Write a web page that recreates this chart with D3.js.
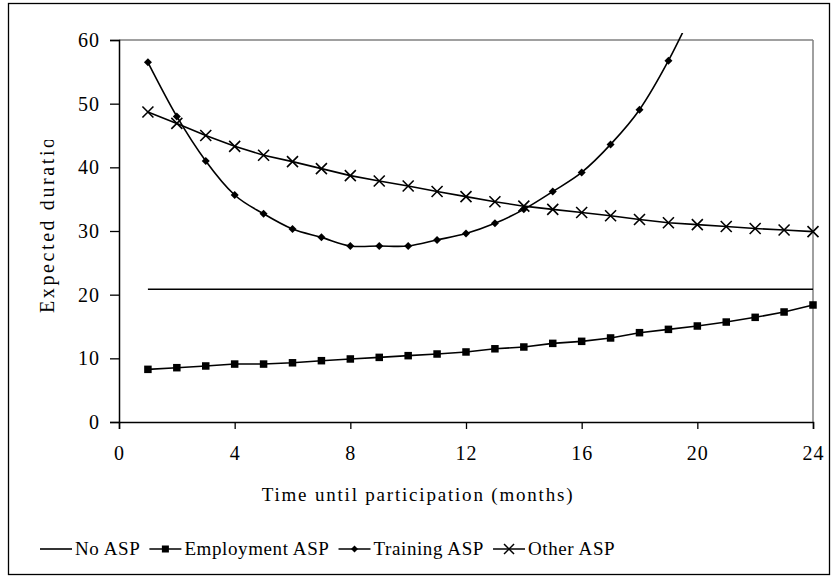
<!DOCTYPE html>
<html>
<head>
<meta charset="utf-8">
<script src="https://cdn.jsdelivr.net/npm/d3@7"></script>
<style>
  body { margin: 0; background: #fff; }
  text { font-family: "Liberation Serif", "Times New Roman", serif; fill: #000; }
</style>
</head>
<body>
<div id="chart"></div>
<script>
// data
const months = d3.range(1, 25);
const noAsp = [20.85, 20.85, 20.85, 20.85, 20.85, 20.85, 20.85, 20.85, 20.85, 20.85, 20.85, 20.85,
               20.85, 20.85, 20.85, 20.85, 20.85, 20.85, 20.85, 20.85, 20.85, 20.85, 20.85, 20.85];
const employment = [8.27, 8.53, 8.8, 9.1, 9.1, 9.3, 9.63, 9.9, 10.15, 10.42, 10.68, 11.0,
                    11.5, 11.78, 12.35, 12.67, 13.2, 14.03, 14.55, 15.08, 15.7, 16.44, 17.28, 18.38];
const training = [56.5, 48.0, 41.0, 35.65, 32.7, 30.3, 29.0, 27.65, 27.65, 27.65, 28.6, 29.6,
                  31.2, 33.4, 36.2, 39.2, 43.6, 49.05, 56.75, 66.0];
const other = [48.7, 46.9, 45.0, 43.3, 41.9, 40.9, 39.8, 38.7, 37.85, 37.07, 36.2, 35.4,
               34.6, 33.9, 33.4, 32.9, 32.4, 31.8, 31.3, 31.0, 30.7, 30.4, 30.15, 29.9];
const xTicks = [0, 4, 8, 12, 16, 20, 24];
const yTicks = [0, 10, 20, 30, 40, 50, 60];
const seriesNames = ['No ASP', 'Employment ASP', 'Training ASP', 'Other ASP'];

const width = 838, height = 580;
const plot = {left: 119, right: 813, top: 40, bottom: 422};

const svg = d3.select('#chart').append('svg')
    .attr('width', width)
    .attr('height', height);

svg.append('rect').attr('width', width).attr('height', height).attr('fill', '#fff');

// outer chart border
svg.append('rect')
    .attr('x', 8.5).attr('y', 3.5)
    .attr('width', 821).attr('height', 571)
    .attr('fill', 'none').attr('stroke', '#000').attr('stroke-width', 1.3);

const x = d3.scaleLinear().domain([0, 24]).range([plot.left, plot.right]);
const y = d3.scaleLinear().domain([0, 60]).range([plot.bottom, plot.top]);

// plot area frame (top + right are grey)
svg.append('line')
    .attr('x1', plot.left).attr('x2', plot.right)
    .attr('y1', plot.top).attr('y2', plot.top)
    .attr('stroke', '#808080').attr('stroke-width', 1.5);
svg.append('line')
    .attr('x1', plot.right).attr('x2', plot.right)
    .attr('y1', plot.top).attr('y2', plot.bottom)
    .attr('stroke', '#808080').attr('stroke-width', 1.5);

// axes
const xAxis = svg.append('g')
    .attr('transform', `translate(0, ${plot.bottom})`)
    .call(d3.axisBottom(x).tickValues(xTicks).tickSize(7).tickPadding(17).tickFormat(d3.format('d')));
const yAxis = svg.append('g')
    .attr('transform', `translate(${plot.left}, 0)`)
    .call(d3.axisLeft(y).tickValues(yTicks).tickSize(9).tickPadding(9).tickFormat(d3.format('d')));

[xAxis, yAxis].forEach(a => {
    a.select('.domain').attr('stroke', '#000').attr('stroke-width', 1.5);
    a.selectAll('.tick line').attr('stroke', '#000').attr('stroke-width', 1.3);
    a.selectAll('text').attr('font-size', 20).attr('font-family', '"Liberation Serif", serif')
        .attr('fill', '#000').attr('letter-spacing', 1);
});
yAxis.selectAll('text').attr('dx', -1);

// clip for series
svg.append('clipPath').attr('id', 'plotclip')
    .append('rect')
    .attr('x', plot.left - 10).attr('y', plot.top - 7)
    .attr('width', plot.right - plot.left + 20).attr('height', plot.bottom - plot.top + 17);

const g = svg.append('g').attr('clip-path', 'url(#plotclip)');

const straight = d3.line().x((d, i) => x(months[i])).y(d => y(d));
const smooth = d3.line().x((d, i) => x(months[i])).y(d => y(d)).curve(d3.curveCatmullRom.alpha(0));

g.append('path').datum(noAsp).attr('d', straight)
    .attr('fill', 'none').attr('stroke', '#000').attr('stroke-width', 1.6);
g.append('path').datum(employment).attr('d', straight)
    .attr('fill', 'none').attr('stroke', '#000').attr('stroke-width', 1.6);
g.append('path').datum(training).attr('d', smooth)
    .attr('fill', 'none').attr('stroke', '#000').attr('stroke-width', 1.6);
g.append('path').datum(other).attr('d', straight)
    .attr('fill', 'none').attr('stroke', '#000').attr('stroke-width', 1.6);

// markers
const sq = 7.5;
g.selectAll('.emp').data(employment).enter().append('rect')
    .attr('class', 'emp')
    .attr('x', (d, i) => x(months[i]) - sq / 2)
    .attr('y', d => y(d) - sq / 2)
    .attr('width', sq).attr('height', sq)
    .attr('fill', '#000');

const dm = 4;
g.selectAll('.trn').data(training.filter(v => v <= 60)).enter().append('path')
    .attr('class', 'trn')
    .attr('d', (d, i) => {
        const cx = x(months[i]), cy = y(d);
        return `M${cx},${cy - dm}L${cx + dm},${cy}L${cx},${cy + dm}L${cx - dm},${cy}Z`;
    })
    .attr('fill', '#000');

const xs = 5.5;
g.selectAll('.oth').data(other).enter().append('path')
    .attr('class', 'oth')
    .attr('d', (d, i) => {
        const cx = x(months[i]), cy = y(d);
        return `M${cx - xs},${cy - xs}L${cx + xs},${cy + xs}M${cx - xs},${cy + xs}L${cx + xs},${cy - xs}`;
    })
    .attr('stroke', '#000').attr('stroke-width', 1.6).attr('fill', 'none');

// axis titles
svg.append('text')
    .attr('x', 418)
    .attr('y', 501)
    .attr('text-anchor', 'middle')
    .attr('font-size', 19)
    .attr('letter-spacing', 1.8)
    .text('Time until participation (months)');

svg.append('clipPath').attr('id', 'ylabclip')
    .append('rect').attr('x', 0).attr('y', 140).attr('width', 110).attr('height', 300);

svg.append('g').attr('clip-path', 'url(#ylabclip)')
    .append('text')
    .attr('transform', 'translate(54, 313) rotate(-90)')
    .attr('text-anchor', 'start')
    .attr('font-size', 20)
    .attr('letter-spacing', 2.6)
    .text('Expected duration');

// legend, laid out left to right
const legY = 549;
const markers = ['none', 'square', 'diamond', 'x'];
const leg = svg.append('g');
let legX = 40;
seriesNames.forEach((name, k) => {
    const cx = legX + 16;
    leg.append('line').attr('x1', legX).attr('x2', legX + 32)
        .attr('y1', legY).attr('y2', legY).attr('stroke', '#000').attr('stroke-width', 1.6);
    if (markers[k] === 'square') {
        leg.append('rect').attr('x', cx - 3.5).attr('y', legY - 3.5).attr('width', 7).attr('height', 7).attr('fill', '#000');
    } else if (markers[k] === 'diamond') {
        leg.append('path').attr('d', `M${cx},${legY - 3.5}L${cx + 3.5},${legY}L${cx},${legY + 3.5}L${cx - 3.5},${legY}Z`).attr('fill', '#000');
    } else if (markers[k] === 'x') {
        leg.append('path').attr('d', `M${cx - 5},${legY - 5}L${cx + 5},${legY + 5}M${cx - 5},${legY + 5}L${cx + 5},${legY - 5}`)
            .attr('stroke', '#000').attr('stroke-width', 1.5);
    }
    const t = leg.append('text').attr('x', legX + 35).attr('y', legY + 6)
        .attr('font-size', 19)
        .attr('letter-spacing', 0.6)
        .text(name);
    legX += 35 + t.node().getComputedTextLength() + 9;
});
</script>
</body>
</html>
